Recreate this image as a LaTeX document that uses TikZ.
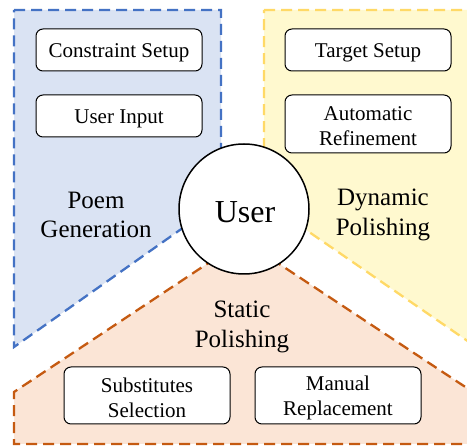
\documentclass[tikz,border=0pt]{standalone}
\usepackage{fontspec}
\setmainfont{Liberation Serif}
\definecolor{bluestroke}{HTML}{4472C4}
\definecolor{bluefill}{HTML}{DAE3F3}
\definecolor{yelstroke}{HTML}{FFD966}
\definecolor{yelfill}{HTML}{FFF9CF}
\definecolor{orastroke}{HTML}{C55A11}
\definecolor{orafill}{HTML}{FBE5D6}
\tikzset{
  region/.style={line width=2.3pt, dash pattern=on 11pt off 6pt},
  stepbox/.style={draw=black, fill=white, line width=1pt, rounded corners=7pt,
    minimum width=166pt, inner sep=0pt},
  boxtext/.style={align=center, inner sep=0pt, font=\fontsize{21}{25}\selectfont},
  biglabel/.style={align=center, inner sep=0pt, font=\fontsize{25}{29.5}\selectfont},
}
\begin{document}
\begin{tikzpicture}[x=1pt,y=-1pt]
\clip (0,0) rectangle (467,446);
\fill[white] (0,0) rectangle (467,446);
% regions
\draw[region, draw=bluestroke, fill=bluefill] (14,10) -- (221,10) -- (221,201) -- (14,347) -- cycle;
\draw[region, draw=yelstroke, fill=yelfill] (264,10) -- (485,10) -- (485,353) -- (264,201) -- cycle;
\draw[region, draw=orastroke, fill=orafill] (243,240) -- (485,400) -- (485,444) -- (14,444) -- (14,392) -- cycle;
% boxes
\node[stepbox, minimum height=42pt] (cs) at (119,50) {};
\node[stepbox, minimum height=42pt] (ui) at (119,116) {};
\node[stepbox, minimum height=42pt] (ts) at (368,50) {};
\node[stepbox, minimum height=58pt] (ar) at (368,124) {};
\node[stepbox, minimum height=57pt] (ss) at (147,395.5) {};
\node[stepbox, minimum height=57pt] (mr) at (338,395.5) {};
\node[boxtext] (cst) at (119,52.5) {Constraint Setup};
\node[boxtext] (uit) at (119,118.5) {User Input};
\node[boxtext] (tst) at (368,52.5) {Target Setup};
\node[boxtext] (art) at (368,126) {Automatic\\Refinement};
\node[boxtext] (sst) at (147,397.5) {Substitutes\\Selection};
\node[boxtext] (mrt) at (338,397.5) {Manual\\Replacement};
% labels
\node[biglabel] (pg) at (96,215) {Poem\\Generation};
\node[biglabel] (dp) at (383,215) {Dynamic\\Polishing};
\node[biglabel] (sp) at (242,327) {Static\\Polishing};
% user
\node[circle, draw=black, fill=white, line width=1.5pt, minimum size=130pt, inner sep=0pt] (user) at (244,209) {};
\node[inner sep=0pt, font=\fontsize{32}{36}\selectfont] (usert) at (245,212) {User};
\end{tikzpicture}
\end{document}
